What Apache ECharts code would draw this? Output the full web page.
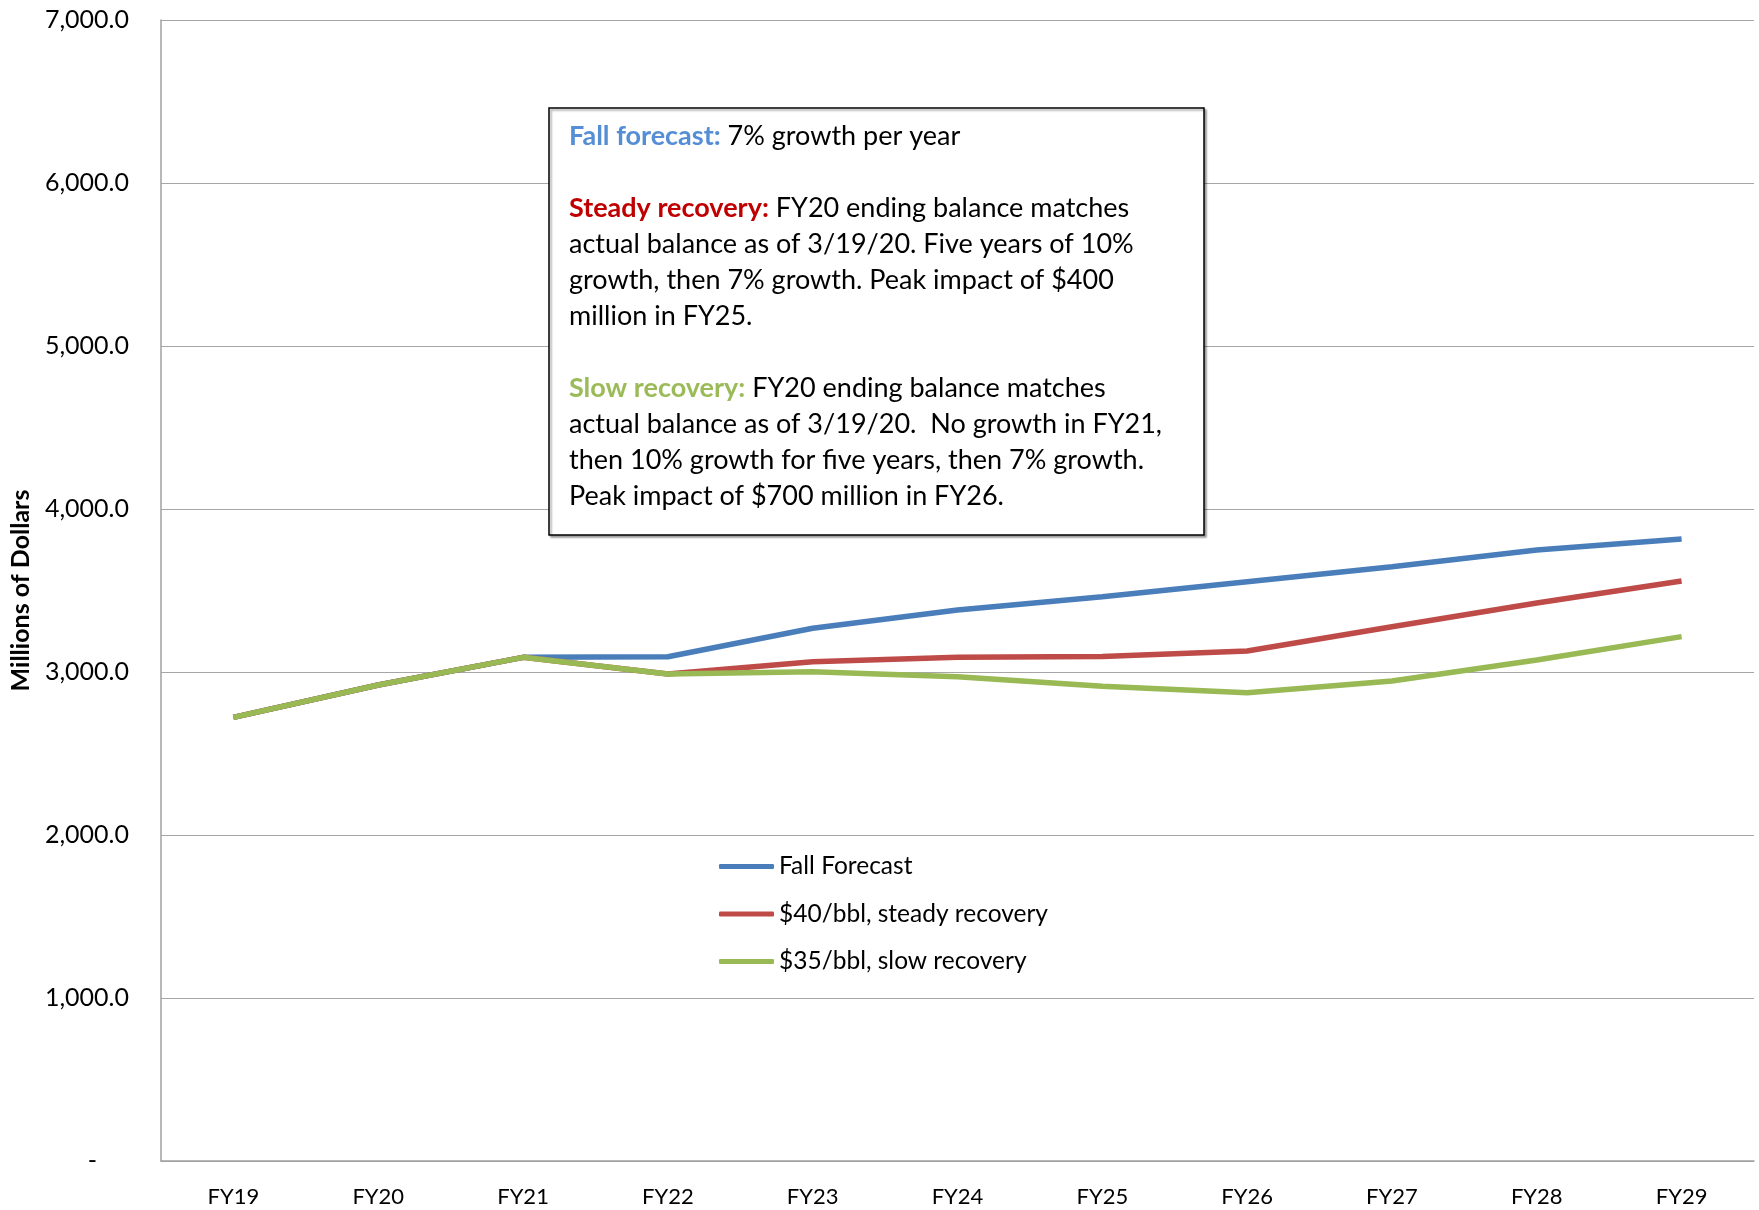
<!DOCTYPE html>
<html>
<head>
<meta charset="utf-8">
<title>Balance forecast</title>
<script src="https://cdn.jsdelivr.net/npm/echarts@6/dist/echarts.min.js"></script>
<style>
  html, body { margin: 0; padding: 0; background: #fff; }
  #chart { width: 1759px; height: 1210px; }
</style>
</head>
<body>
<div id="chart"></div>
<script>
const years = ['FY19', 'FY20', 'FY21', 'FY22', 'FY23', 'FY24', 'FY25', 'FY26', 'FY27', 'FY28', 'FY29'];
const fallForecast = [2722, 2920, 3090, 3094, 3268, 3380, 3462, 3554, 3646, 3748, 3816];
const steadyRecovery = [2722, 2920, 3090, 2988, 3063, 3090, 3095, 3129, 3278, 3423, 3558];
const slowRecovery = [2722, 2920, 3090, 2988, 3002, 2971, 2912, 2873, 2945, 3074, 3217];
const seriesNames = ['Fall Forecast', '$40/bbl, steady recovery', '$35/bbl, slow recovery'];
const yTicks = [0, 1000, 2000, 3000, 4000, 5000, 6000, 7000];

const FONT = 'Lato, "Open Sans", sans-serif';

const chart = echarts.init(document.getElementById('chart'));

const noteText = [
  '{blue|Fall forecast:} 7% growth per year',
  '',
  '{red|Steady recovery:} FY20 ending balance matches',
  'actual balance as of 3/19/20. Five years of 10%',
  'growth, then 7% growth. Peak impact of $400',
  'million in FY25.',
  '',
  '{green|Slow recovery:} FY20 ending balance matches',
  'actual balance as of 3/19/20.  No growth in FY21,',
  'then 10% growth for five years, then 7% growth.',
  'Peak impact of $700 million in FY26.'
].join('\n');

chart.setOption({
  animation: false,
  textStyle: { fontFamily: FONT },
  grid: { left: 160, right: 5, top: 20, bottom: 49 },
  legend: {
    orient: 'vertical',
    left: 714,
    top: 849,
    icon: 'roundRect',
    itemWidth: 55,
    itemHeight: 5,
    itemGap: 22.5,
    textStyle: { fontSize: 24.5, color: '#000', fontFamily: FONT },
    data: seriesNames
  },
  xAxis: {
    type: 'category',
    data: years,
    boundaryGap: true,
    axisLine: { lineStyle: { color: '#a0a0a0', width: 1.5 } },
    axisTick: { show: false },
    axisLabel: { color: '#000', fontSize: 22, margin: 25 }
  },
  yAxis: {
    type: 'value',
    min: yTicks[0],
    max: yTicks[yTicks.length - 1],
    interval: 1000,
    name: 'Millions of Dollars',
    nameLocation: 'middle',
    nameGap: 128,
    nameTextStyle: { fontSize: 25, fontWeight: 'bold', color: '#000' },
    axisLine: { show: true, lineStyle: { color: '#a0a0a0', width: 1.5 } },
    axisTick: { show: false },
    splitLine: { lineStyle: { color: '#a6a6a6', width: 1.2 } },
    axisLabel: {
      color: '#000',
      fontSize: 25,
      margin: 32,
      formatter: function (v) {
        if (v === 0) return '-     ';
        return v.toLocaleString('en-US', { minimumFractionDigits: 1, maximumFractionDigits: 1 });
      }
    }
  },
  series: [
    {
      name: seriesNames[0],
      type: 'line',
      data: fallForecast,
      symbol: 'none',
      color: '#4a7ebb',
      lineStyle: { width: 5.5, color: '#4a7ebb' }
    },
    {
      name: seriesNames[1],
      type: 'line',
      data: steadyRecovery,
      symbol: 'none',
      color: '#be4b48',
      lineStyle: { width: 5.5, color: '#be4b48' }
    },
    {
      name: seriesNames[2],
      type: 'line',
      data: slowRecovery,
      symbol: 'none',
      color: '#98b954',
      lineStyle: { width: 5.5, color: '#98b954' }
    }
  ],
  graphic: [
    {
      type: 'rect',
      z: 100,
      shape: { x: 549, y: 108, width: 655, height: 427 },
      style: {
        fill: '#fff',
        stroke: '#000',
        lineWidth: 1.5,
        shadowColor: 'rgba(0,0,0,0.35)',
        shadowOffsetX: 2,
        shadowOffsetY: 2,
        shadowBlur: 2
      }
    },
    {
      type: 'text',
      z: 101,
      x: 569,
      y: 118,
      style: {
        text: noteText,
        fill: '#000',
        font: '27px ' + FONT,
        lineHeight: 36,
        verticalAlign: 'top',
        rich: {
          blue: { fill: '#558ed5', fontSize: 27, fontFamily: FONT, fontWeight: 'bold', lineHeight: 36 },
          red: { fill: '#c00000', fontSize: 27, fontFamily: FONT, fontWeight: 'bold', lineHeight: 36 },
          green: { fill: '#9bbb59', fontSize: 27, fontFamily: FONT, fontWeight: 'bold', lineHeight: 36 }
        }
      }
    }
  ]
});
</script>
</body>
</html>
